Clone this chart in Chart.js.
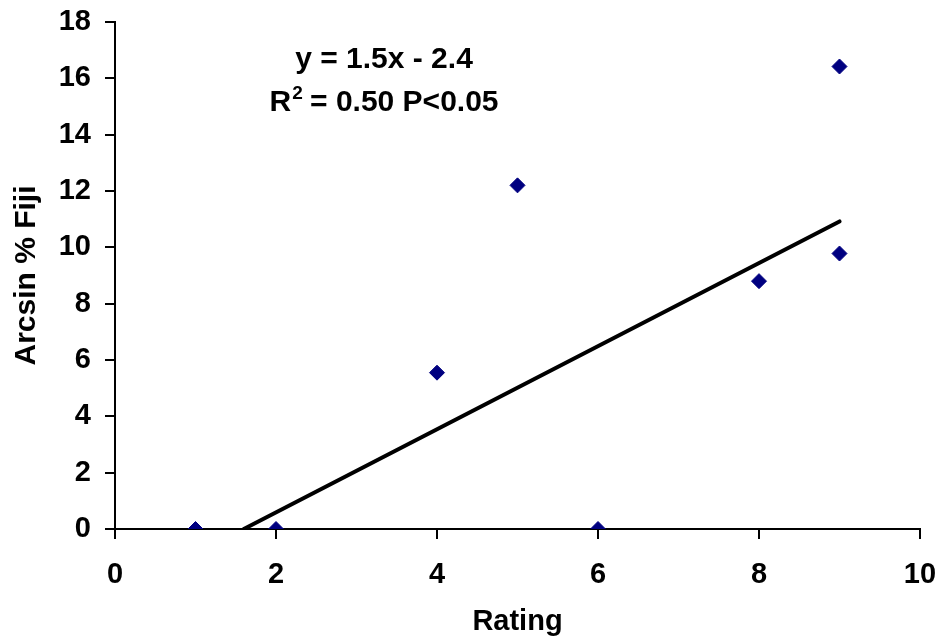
<!DOCTYPE html>
<html lang="en">
<head>
    <meta charset="UTF-8">
    <title>Arcsin % Fiji vs Rating</title>
    <script src="https://cdn.jsdelivr.net/npm/chart.js"></script>
    <style>
        html, body { margin: 0; padding: 0; background: #ffffff; }
        #box { width: 938px; height: 642px; }
    </style>
</head>
<body>
    <div id="box">
        <canvas id="graficoFiji"></canvas>
    </div>

<script>
  // valores
  var notas = [1, 2, 4, 5, 6, 8, 9, 9]
  var arcsinFiji = [0, 0, 5.55, 12.2, 0, 8.8, 9.78, 16.42]

  // linha de tendencia (pontos extremos)
  var tendenciaX = [1.6, 9]
  var tendenciaY = [0, 10.92]

  var eixoXTicks = [0, 2, 4, 6, 8, 10]
  var eixoYTicks = [0, 2, 4, 6, 8, 10, 12, 14, 16, 18]

  var fonte = "'Liberation Sans', Arial, Helvetica, sans-serif"

  var pontos = []
  for (var i = 0; i < notas.length; i++) {
    pontos.push({ x: notas[i], y: arcsinFiji[i] })
  }
  var linha = []
  for (var j = 0; j < tendenciaX.length; j++) {
    linha.push({ x: tendenciaX[j], y: tendenciaY[j] })
  }

  // texto da equacao em cima do grafico
  const equacao = {
    id: 'equacao',
    afterDatasetsDraw(chart) {
      const ctx = chart.ctx
      const area = chart.chartArea
      const cx = area.left + 269
      ctx.save()
      ctx.fillStyle = '#000000'
      ctx.textBaseline = 'alphabetic'
      ctx.font = 'bold 30px ' + fonte
      ctx.textAlign = 'center'
      ctx.fillText('y = 1.5x - 2.4', cx, area.top + 46)

      // R² com expoente
      var parte1 = 'R'
      var parte2 = '2'
      var parte3 = ' = 0.50 P<0.05'
      ctx.font = 'bold 30px ' + fonte
      var w1 = ctx.measureText(parte1).width
      var w3 = ctx.measureText(parte3).width
      ctx.font = 'bold 19px ' + fonte
      var w2 = ctx.measureText(parte2).width
      var inicio = cx - (w1 + w2 + w3) / 2
      var base = area.top + 89
      ctx.textAlign = 'left'
      ctx.font = 'bold 30px ' + fonte
      ctx.fillText(parte1, inicio, base)
      ctx.font = 'bold 19px ' + fonte
      ctx.fillText(parte2, inicio + w1 + 1, base - 12)
      ctx.font = 'bold 30px ' + fonte
      ctx.fillText(parte3, inicio + w1 + w2, base)
      ctx.restore()
    }
  }

  const graficoFiji = document.getElementById('graficoFiji')

  new Chart(graficoFiji, {
    type: 'scatter',
    data: {
      datasets: [{
        label: 'Arcsin % Fiji',
        data: pontos,
        backgroundColor: '#000080',
        borderColor: '#000080',
        borderWidth: 1,
        pointStyle: 'rectRot',
        pointRadius: 7.5,
        pointHoverRadius: 7.5,
        order: 1
      }, {
        label: 'Tendencia',
        data: linha,
        type: 'line',
        showLine: true,
        borderColor: '#000000',
        borderWidth: 4,
        borderCapStyle: 'round',
        pointRadius: 0,
        fill: false,
        order: 2
      }]
    },
    options: {
      responsive: true,
      maintainAspectRatio: false,
      animation: false,
      events: [],
      layout: {
        padding: { top: 22, right: 18, left: 0, bottom: 0 }
      },
      plugins: {
        legend: { display: false },
        tooltip: { enabled: false }
      },
      scales: {
        x: {
          type: 'linear',
          min: 0,
          max: 10,
          afterBuildTicks: function (scale) {
            scale.ticks = eixoXTicks.map(function (v) { return { value: v } })
          },
          afterFit: function (scale) {
            scale.height = 113
            scale.paddingLeft = 0
            scale.paddingRight = 0
          },
          border: { display: true, color: '#000000', width: 2 },
          grid: {
            drawOnChartArea: false,
            drawTicks: true,
            tickLength: 10,
            color: '#000000',
            lineWidth: 2
          },
          ticks: {
            color: '#000000',
            padding: 19,
            font: { family: fonte, size: 29, weight: 'bold' }
          },
          title: {
            display: true,
            text: 'Rating',
            color: '#000000',
            padding: { top: 0, bottom: 3 },
            font: { family: fonte, size: 29, weight: 'bold' }
          }
        },
        y: {
          type: 'linear',
          min: 0,
          max: 18,
          afterBuildTicks: function (scale) {
            scale.ticks = eixoYTicks.map(function (v) { return { value: v } })
          },
          afterFit: function (scale) {
            scale.width = 115
            scale.paddingTop = 0
            scale.paddingBottom = 0
          },
          border: { display: true, color: '#000000', width: 2 },
          grid: {
            drawOnChartArea: false,
            drawTicks: true,
            tickLength: 10,
            color: '#000000',
            lineWidth: 2
          },
          ticks: {
            color: '#000000',
            padding: 14,
            font: { family: fonte, size: 29, weight: 'bold' }
          },
          title: {
            display: true,
            text: 'Arcsin % Fiji',
            color: '#000000',
            padding: { top: 9, bottom: 0 },
            font: { family: fonte, size: 30, weight: 'bold' }
          }
        }
      }
    },
    plugins: [equacao]
  });
</script>
</body>
</html>
